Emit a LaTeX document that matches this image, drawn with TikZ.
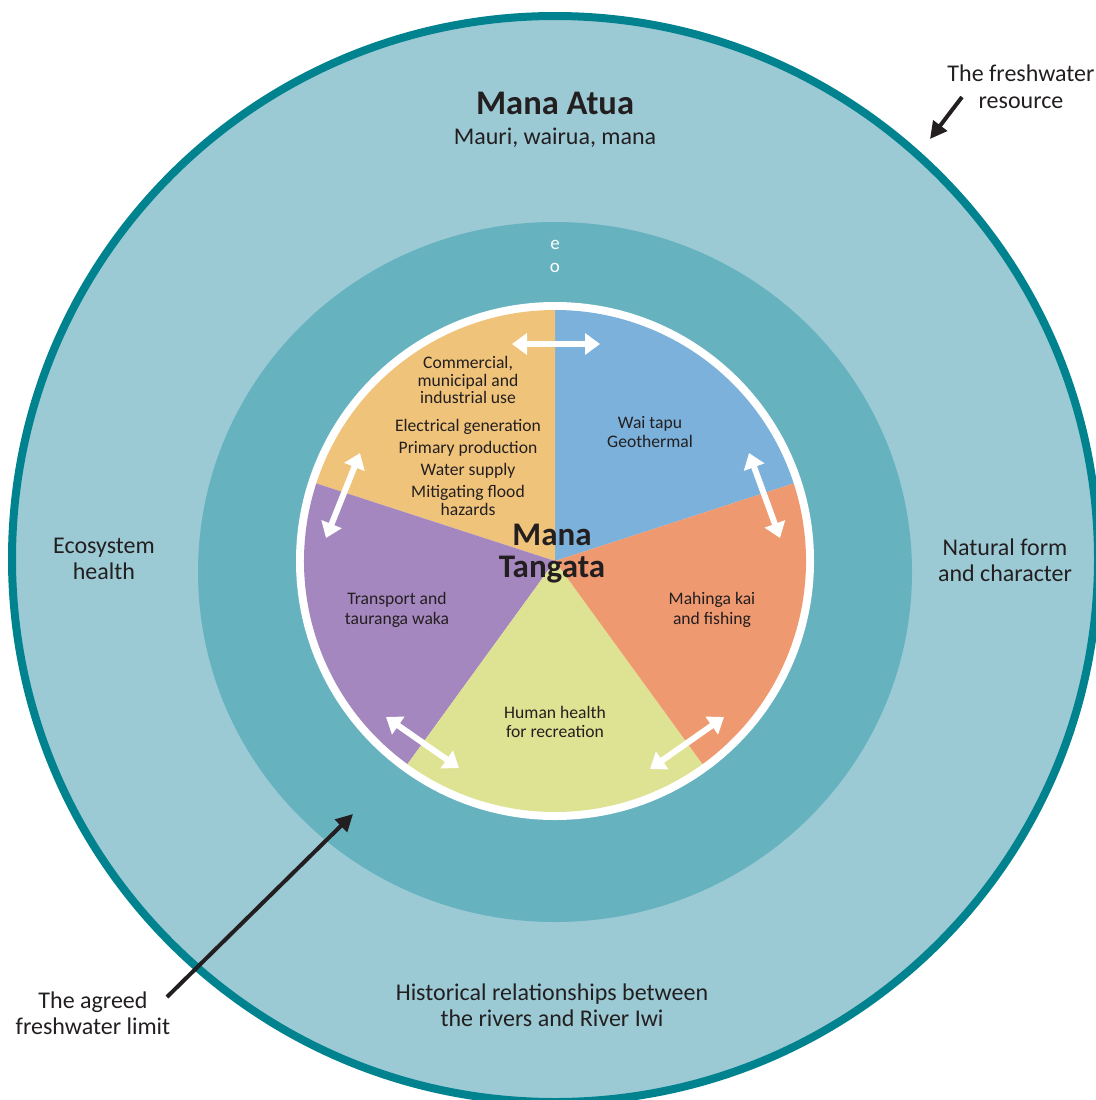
\documentclass[tikz,border=0pt]{standalone}
\usepackage{fontspec}
\setmainfont{Carlito}
\usetikzlibrary{arrows.meta}
\definecolor{ringline}{HTML}{00838F}
\definecolor{outerring}{HTML}{9BCAD5}
\definecolor{limitring}{HTML}{66B3BF}
\definecolor{waiblue}{HTML}{7BB1DA}
\definecolor{commorange}{HTML}{F0C37A}
\definecolor{transpurple}{HTML}{A587BF}
\definecolor{healthgreen}{HTML}{DEE393}
\definecolor{kaisalmon}{HTML}{EF9970}
\definecolor{inktext}{HTML}{231F20}

\begin{document}
\begin{tikzpicture}[x=1pt, y=-1pt, every node/.style = {align=center, text=inktext, inner sep=0pt},
    ringlabel/.style = {font=\fontsize{24}{26.5}\selectfont},
    sectorlabel/.style = {font=\fontsize{17.6}{19.5}\selectfont},
    manatitle/.style = {font=\fontsize{34.5}{34}\selectfont\bfseries},
    wharrow/.style = {draw=white, line width=6pt, {Triangle[length=15pt, width=21pt]}-{Triangle[length=15pt, width=21pt]}},
    pointer/.style = {draw=inktext, line width=4pt, -{Triangle[length=17pt, width=17pt]}}]
    \useasboundingbox (0,0) rectangle (1095,1100);
    \coordinate (mid) at (555,561);
    \fill[outerring, draw=ringline, line width=8pt] (555,559) circle[radius=543];
    \fill[limitring] (555,572) ellipse[x radius=357, y radius=350];
    \fill[white] (mid) circle[radius=259];
    \fill[waiblue] (mid) -- ++(-18:251) arc[start angle=-18, end angle=-90, radius=251] -- cycle;
    \fill[commorange] (mid) -- ++(-90:251) arc[start angle=-90, end angle=-162, radius=251] -- cycle;
    \fill[transpurple] (mid) -- ++(-162:251) arc[start angle=-162, end angle=-234, radius=251] -- cycle;
    \fill[healthgreen] (mid) -- ++(-234:251) arc[start angle=-234, end angle=-306, radius=251] -- cycle;
    \fill[kaisalmon] (mid) -- ++(-306:251) arc[start angle=-306, end angle=-378, radius=251] -- cycle;

    \coordinate (topL) at (512,344);
    \coordinate (topR) at (600,344);
    \coordinate (ulA) at (360,453);
    \coordinate (ulB) at (326,538);
    \coordinate (urA) at (749,453);
    \coordinate (urB) at (780,538);
    \coordinate (llA) at (386,717);
    \coordinate (llB) at (459,768);
    \coordinate (lrA) at (724,717);
    \coordinate (lrB) at (650,769);
    \draw[wharrow] (topL) -- (topR);
    \draw[wharrow] (ulA) -- (ulB);
    \draw[wharrow] (urA) -- (urB);
    \draw[wharrow] (llA) -- (llB);
    \draw[wharrow] (lrA) -- (lrB);

    \node[manatitle] (atua) at (555,103) {Mana Atua};
    \node[ringlabel] (mauri) at (555,138) {Mauri, wairua, mana};
    \node[font=\fontsize{19}{23}\selectfont, text=white] (eo) at (555,256) {e\\o};
    \node[ringlabel] (freshres) at (1021,87) {The freshwater\\resource};
    \node[ringlabel] (ecosys) at (104,559) {Ecosystem\\health};
    \node[ringlabel] (natform) at (1005,560) {Natural form\\and character};
    \node[ringlabel] (history) at (552,1005) {Historical relationships between\\the rivers and River Iwi};
    \node[ringlabel] (agreed) at (93,1013) {The agreed\\freshwater limit};

    \node[sectorlabel] (commerce) at (468,380) {Commercial,\\[-2pt]municipal and\\[-2pt]industrial use};
    \node[sectorlabel] (uses) at (468,467) {Electrical generation\\[2.5pt]Primary production\\[3pt]Water supply\\[2.5pt]Mitigating flood\\[-2pt]hazards};
    \node[sectorlabel] (waitapu) at (650,432) {Wai tapu\\Geothermal};
    \node[sectorlabel] (transport) at (397,610) {Transport and\\tauranga waka};
    \node[sectorlabel] (mahinga) at (712,610) {Mahinga kai\\and fishing};
    \node[sectorlabel] (human) at (555,722) {Human health\\for recreation};
    \node[manatitle, font=\fontsize{33}{32}\selectfont\bfseries] (tangata) at (552,554) {Mana\\Tangata};

    \coordinate (resTip) at (930,139);
    \coordinate (limTip) at (353,814);
    \draw[pointer] (962,97) -- (resTip);
    \draw[pointer] (167,997) -- (limTip);
\end{tikzpicture}
\end{document}
